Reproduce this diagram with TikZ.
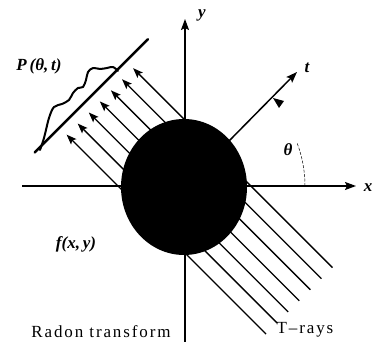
\documentclass[tikz,border=0pt]{standalone}
\usepackage{fontspec}
\setmainfont{Liberation Serif}
\usetikzlibrary{arrows.meta,calc}
\begin{document}
\begin{tikzpicture}[x=1pt,y=-1pt,
  axis/.style={line width=1.5pt},
  bigtip/.style={-{Stealth[length=11pt,width=8pt,inset=2pt]}},
  ray/.style={line width=1.3pt},
  raytip/.style={{Stealth[length=10pt,width=7.5pt,inset=2pt]}-},
  proj/.style={line width=2.6pt,line cap=round},
  wave/.style={line width=2pt,line cap=round,line join=round},
  lbl/.style={font=\fontsize{17}{18}\selectfont\bfseries\itshape,inner sep=0pt},
  txt/.style={font=\fontsize{17}{18}\selectfont\addfontfeatures{LetterSpace=11},inner sep=0pt}]
\useasboundingbox (0,0) rectangle (373,342);
\coordinate (C) at (184,187);
% rays (drawn before the disc, which covers their middle)
\foreach \k in {0,...,6}{
  \pgfmathsetmacro{\s}{-46+15.67*\k}
  \coordinate (rt\k) at ($(C)+({0.7071*(\s-120)},{0.7071*(-120-\s)})$);
  \coordinate (re\k) at ($(C)+({0.7071*(\s+162)},{0.7071*(162-\s)})$);
  \draw[ray,raytip] (rt\k) -- (re\k);
}
% axes
\coordinate (xl) at (22,186);
\coordinate (xr) at (356,186);
\coordinate (yb) at (185,342);
\coordinate (yt) at (185,19);
\draw[axis,bigtip] (xl) -- (xr);
\draw[axis,bigtip] (yb) -- (yt);
% object
\fill (C) ellipse[x radius=63, y radius=68];
% t axis
\coordinate (ts) at (229,141);
\coordinate (te) at (297,72);
\draw[axis,bigtip] (ts) -- (te);
\coordinate (m1) at (273,98);
\coordinate (m2) at (284,101);
\coordinate (m3) at (279,108);
\fill (m1) -- (m2) -- (m3) -- cycle;
% theta arc
\coordinate (a0) at (305,186);
\draw[line width=0.5pt,dash pattern=on 3pt off 1.5pt] (a0) arc[start angle=0,end angle=-21,radius=121];
% projection line
\coordinate (p1) at ($(C)+({0.7071*(-81-130)},{0.7071*(-130+81)})$);
\coordinate (p2) at ($(C)+({0.7071*(79-130)},{0.7071*(-130-79)})$);
\draw[proj] (p1) -- (p2);
% profile
\draw[wave] plot[smooth,tension=0.55] coordinates {(40,150) (44,138) (49,118) (54,107) (62,104) (69,100) (73,93) (78,88) (83,87) (86,80) (88,72) (93,68) (100,69) (107,68) (113,67) (118,71)};
% labels
\node[lbl] (P) at (39,66) {\textit{P}\,(\textit{θ},\,\textit{t})};
\node[lbl] (ylab) at (202,15) {\textit{y}};
\node[lbl] (tlab) at (307,68) {\textit{t}};
\node[lbl] (thlab) at (288,150) {\textit{θ}};
\node[lbl] (xlab) at (368,188) {\textit{x}};
\node[lbl] (f) at (76,244) {\textit{f}(\textit{x},\,\textit{y})};
\node[txt] (radon) at (101,332) {Radon transform};
\node[txt] (trays) at (305,330) {T‒rays};
\end{tikzpicture}
\end{document}
